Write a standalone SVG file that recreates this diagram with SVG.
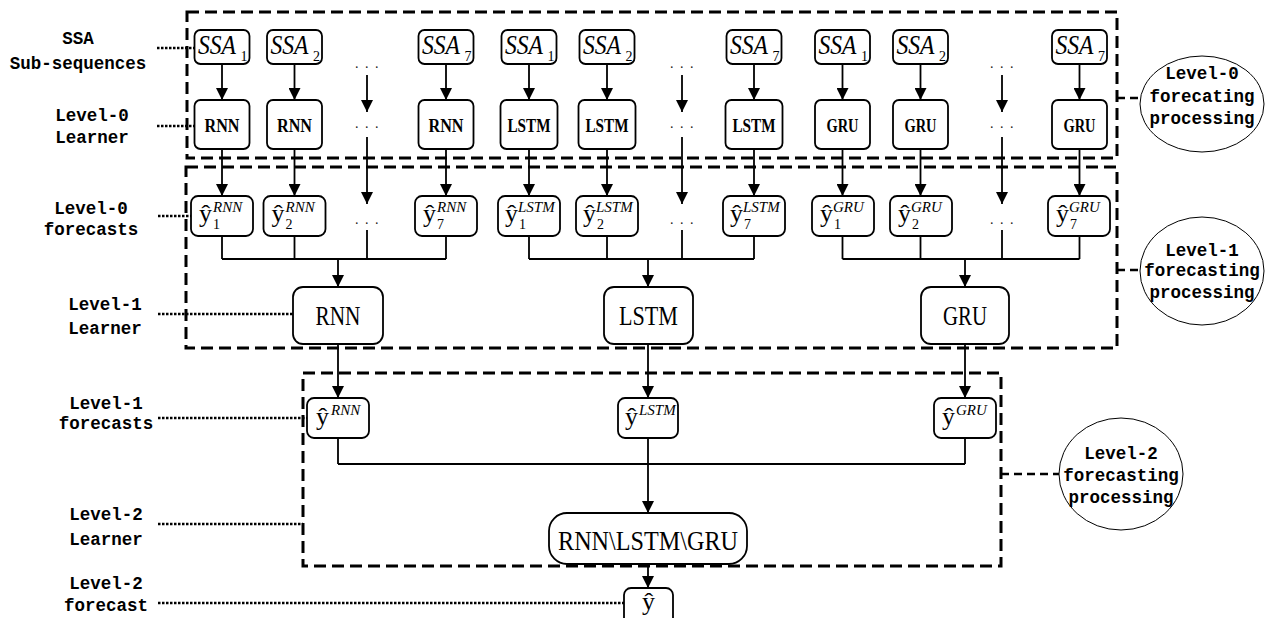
<svg xmlns="http://www.w3.org/2000/svg" width="1267" height="618" viewBox="0 0 1267 618">
<defs>
<style>
.box{fill:#fff;stroke:#000;stroke-width:1.8}
.grp{fill:none;stroke:#000;stroke-width:3;stroke-dasharray:12 6}
.dot{fill:none;stroke:#000;stroke-width:2.5;stroke-dasharray:2.5 1.5}
.dash{fill:none;stroke:#000;stroke-width:2.5;stroke-dasharray:8 5}
.ln{fill:none;stroke:#000;stroke-width:1.8}
.ell{fill:#fff;stroke:#000;stroke-width:1}
.lab{font-family:"Liberation Mono",monospace;font-weight:bold;font-size:17.5px;text-anchor:middle;fill:#000}
.ssa{font-family:"Liberation Serif",serif;font-style:italic;font-size:27px;fill:#000}
.sub{font-family:"Liberation Serif",serif;font-size:14px;fill:#000}
.l0{font-family:"Liberation Serif",serif;font-weight:bold;font-size:18px;text-anchor:middle;fill:#000}
.l1{font-family:"Liberation Serif",serif;font-size:28px;text-anchor:middle;fill:#000}
.yh{font-family:"Liberation Serif",serif;font-size:26px;fill:#000}
.sup{font-family:"Liberation Serif",serif;font-style:italic;font-size:15px;fill:#000}
.dots{font-family:"Liberation Serif",serif;font-size:14px;letter-spacing:6.5px;text-anchor:middle;fill:#222}
</style>
<marker id="ah" markerWidth="12" markerHeight="12" refX="12" refY="6" orient="auto" markerUnits="userSpaceOnUse"><path d="M0,0 L12,6 L0,12 Z" fill="#000"/></marker>
</defs>
<rect width="1267" height="618" fill="#fff"/>

<!-- group frames -->
<g id="frames">
<rect class="grp" x="187" y="12" width="930" height="146"/>
<rect class="grp" x="186" y="167" width="931" height="181"/>
<rect class="grp" x="303" y="373" width="698" height="193"/>
</g>

<!-- connectors -->
<g id="connectors">
<g class="ln" marker-end="url(#ah)">
<line x1="222" y1="64" x2="222" y2="100"/>
<line x1="294.5" y1="64" x2="294.5" y2="100"/>
<line x1="367" y1="75" x2="367" y2="112"/>
<line x1="446" y1="64" x2="446" y2="100"/>
<line x1="529" y1="64" x2="529" y2="100"/>
<line x1="607" y1="64" x2="607" y2="100"/>
<line x1="682" y1="75" x2="682" y2="112"/>
<line x1="754" y1="64" x2="754" y2="100"/>
<line x1="842.5" y1="64" x2="842.5" y2="100"/>
<line x1="920.5" y1="64" x2="920.5" y2="100"/>
<line x1="1002" y1="75" x2="1002" y2="112"/>
<line x1="1079.5" y1="64" x2="1079.5" y2="100"/>
<line x1="222" y1="149" x2="222" y2="196"/>
<line x1="294.5" y1="149" x2="294.5" y2="196"/>
<line x1="367" y1="137" x2="367" y2="204"/>
<line x1="446" y1="149" x2="446" y2="196"/>
<line x1="529" y1="149" x2="529" y2="196"/>
<line x1="607" y1="149" x2="607" y2="196"/>
<line x1="682" y1="137" x2="682" y2="204"/>
<line x1="754" y1="149" x2="754" y2="196"/>
<line x1="842.5" y1="149" x2="842.5" y2="196"/>
<line x1="920.5" y1="149" x2="920.5" y2="196"/>
<line x1="1002" y1="137" x2="1002" y2="204"/>
<line x1="1079.5" y1="149" x2="1079.5" y2="196"/>
<line x1="338" y1="259" x2="338" y2="287"/>
<line x1="648" y1="259" x2="648" y2="287"/>
<line x1="965" y1="259" x2="965" y2="287"/>
<line x1="338" y1="344" x2="338" y2="398"/>
<line x1="648" y1="344" x2="648" y2="398"/>
<line x1="965" y1="344" x2="965" y2="398"/>
<line x1="648" y1="438" x2="648" y2="513"/>
<line x1="648" y1="564" x2="648" y2="588"/>
</g>
<path class="ln" d="M222,236V259M294.5,236V259M367,230V259M446,236V259M222,259H446"/>
<path class="ln" d="M529,236V259M607,236V259M682,230V259M754,236V259M529,259H754"/>
<path class="ln" d="M842.5,236V259M920.5,236V259M1002,230V259M1079.5,236V259M842.5,259H1079.5"/>
<path class="ln" d="M338,438V464M965,438V464M338,464H965"/>
<g class="dot">
<line x1="157" y1="48" x2="194" y2="48"/>
<line x1="157" y1="126" x2="194" y2="126"/>
<line x1="158" y1="216" x2="191" y2="216"/>
<line x1="158" y1="314" x2="293" y2="314"/>
<line x1="158" y1="418" x2="307" y2="418"/>
<line x1="158" y1="524" x2="303" y2="524"/>
<line x1="158" y1="603" x2="624" y2="603"/>
</g>
<g class="dash">
<line x1="1117" y1="98" x2="1140" y2="98"/>
<line x1="1117" y1="270" x2="1140" y2="270"/>
<line x1="1001" y1="474" x2="1059" y2="474"/>
</g>
</g>

<!-- left labels -->
<g id="labels">
<text class="lab" x="78" y="44">SSA</text>
<text class="lab" x="78" y="69">Sub-sequences</text>
<text class="lab" x="92" y="121">Level-0</text>
<text class="lab" x="92" y="143">Learner</text>
<text class="lab" x="91" y="214">Level-0</text>
<text class="lab" x="91" y="235">forecasts</text>
<text class="lab" x="105" y="310">Level-1</text>
<text class="lab" x="105" y="334">Learner</text>
<text class="lab" x="106" y="409">Level-1</text>
<text class="lab" x="106" y="429">forecasts</text>
<text class="lab" x="106" y="520">Level-2</text>
<text class="lab" x="106" y="545">Learner</text>
<text class="lab" x="106" y="589">Level-2</text>
<text class="lab" x="106" y="611">forecast</text>
</g>

<!-- SSA nodes -->
<g id="ssa-rnn-1"><rect class="box" x="194.5" y="30" width="55" height="34" rx="6"/><text class="ssa" x="198" y="54" textLength="38" lengthAdjust="spacingAndGlyphs">SSA</text><text class="sub" x="240.5" y="61">1</text></g>
<g id="ssa-rnn-2"><rect class="box" x="267" y="30" width="55" height="34" rx="6"/><text class="ssa" x="270.5" y="54" textLength="38" lengthAdjust="spacingAndGlyphs">SSA</text><text class="sub" x="313" y="61">2</text></g>
<g id="ssa-rnn-7"><rect class="box" x="418.5" y="30" width="55" height="34" rx="6"/><text class="ssa" x="422" y="54" textLength="38" lengthAdjust="spacingAndGlyphs">SSA</text><text class="sub" x="464.5" y="61">7</text></g>
<g id="ssa-lstm-1"><rect class="box" x="501.5" y="30" width="55" height="34" rx="6"/><text class="ssa" x="505" y="54" textLength="38" lengthAdjust="spacingAndGlyphs">SSA</text><text class="sub" x="547.5" y="61">1</text></g>
<g id="ssa-lstm-2"><rect class="box" x="579.5" y="30" width="55" height="34" rx="6"/><text class="ssa" x="583" y="54" textLength="38" lengthAdjust="spacingAndGlyphs">SSA</text><text class="sub" x="625.5" y="61">2</text></g>
<g id="ssa-lstm-7"><rect class="box" x="726.5" y="30" width="55" height="34" rx="6"/><text class="ssa" x="730" y="54" textLength="38" lengthAdjust="spacingAndGlyphs">SSA</text><text class="sub" x="772.5" y="61">7</text></g>
<g id="ssa-gru-1"><rect class="box" x="815" y="30" width="55" height="34" rx="6"/><text class="ssa" x="818.5" y="54" textLength="38" lengthAdjust="spacingAndGlyphs">SSA</text><text class="sub" x="861" y="61">1</text></g>
<g id="ssa-gru-2"><rect class="box" x="893" y="30" width="55" height="34" rx="6"/><text class="ssa" x="896.5" y="54" textLength="38" lengthAdjust="spacingAndGlyphs">SSA</text><text class="sub" x="939" y="61">2</text></g>
<g id="ssa-gru-7"><rect class="box" x="1052" y="30" width="55" height="34" rx="6"/><text class="ssa" x="1055.5" y="54" textLength="38" lengthAdjust="spacingAndGlyphs">SSA</text><text class="sub" x="1098" y="61">7</text></g>

<!-- Level-0 learners -->
<g id="l0-rnn-1"><rect class="box" x="194.5" y="100" width="55" height="49" rx="6"/><text class="l0" x="222" y="132" textLength="35" lengthAdjust="spacingAndGlyphs">RNN</text></g>
<g id="l0-rnn-2"><rect class="box" x="267" y="100" width="55" height="49" rx="6"/><text class="l0" x="294.5" y="132" textLength="35" lengthAdjust="spacingAndGlyphs">RNN</text></g>
<g id="l0-rnn-7"><rect class="box" x="418.5" y="100" width="55" height="49" rx="6"/><text class="l0" x="446" y="132" textLength="35" lengthAdjust="spacingAndGlyphs">RNN</text></g>
<g id="l0-lstm-1"><rect class="box" x="500.5" y="100" width="57" height="49" rx="6"/><text class="l0" x="529" y="132" textLength="43" lengthAdjust="spacingAndGlyphs">LSTM</text></g>
<g id="l0-lstm-2"><rect class="box" x="578.5" y="100" width="57" height="49" rx="6"/><text class="l0" x="607" y="132" textLength="43" lengthAdjust="spacingAndGlyphs">LSTM</text></g>
<g id="l0-lstm-7"><rect class="box" x="725.5" y="100" width="57" height="49" rx="6"/><text class="l0" x="754" y="132" textLength="43" lengthAdjust="spacingAndGlyphs">LSTM</text></g>
<g id="l0-gru-1"><rect class="box" x="815" y="100" width="55" height="49" rx="6"/><text class="l0" x="842.5" y="132" textLength="32" lengthAdjust="spacingAndGlyphs">GRU</text></g>
<g id="l0-gru-2"><rect class="box" x="893" y="100" width="55" height="49" rx="6"/><text class="l0" x="920.5" y="132" textLength="32" lengthAdjust="spacingAndGlyphs">GRU</text></g>
<g id="l0-gru-7"><rect class="box" x="1052" y="100" width="55" height="49" rx="6"/><text class="l0" x="1079.5" y="132" textLength="32" lengthAdjust="spacingAndGlyphs">GRU</text></g>

<!-- ellipsis markers -->
<g id="ellipses">
<text class="dots" x="370" y="68">...</text><text class="dots" x="370" y="128">...</text><text class="dots" x="370" y="224">...</text>
<text class="dots" x="685" y="68">...</text><text class="dots" x="685" y="128">...</text><text class="dots" x="685" y="224">...</text>
<text class="dots" x="1005" y="68">...</text><text class="dots" x="1005" y="128">...</text><text class="dots" x="1005" y="224">...</text>
</g>

<!-- Level-0 forecasts -->
<g id="f0-rnn-1"><rect class="box" x="191" y="196" width="62" height="40" rx="7"/><text class="yh" x="199" y="222">ŷ</text><text class="sup" x="213" y="212">RNN</text><text class="sub" x="213" y="229">1</text></g>
<g id="f0-rnn-2"><rect class="box" x="263.5" y="196" width="62" height="40" rx="7"/><text class="yh" x="271.5" y="222">ŷ</text><text class="sup" x="285.5" y="212">RNN</text><text class="sub" x="285.5" y="229">2</text></g>
<g id="f0-rnn-7"><rect class="box" x="415" y="196" width="62" height="40" rx="7"/><text class="yh" x="423" y="222">ŷ</text><text class="sup" x="437" y="212">RNN</text><text class="sub" x="437" y="229">7</text></g>
<g id="f0-lstm-1"><rect class="box" x="498" y="196" width="62" height="40" rx="7"/><text class="yh" x="505" y="222">ŷ</text><text class="sup" x="518" y="212">LSTM</text><text class="sub" x="519" y="229">1</text></g>
<g id="f0-lstm-2"><rect class="box" x="576" y="196" width="62" height="40" rx="7"/><text class="yh" x="583" y="222">ŷ</text><text class="sup" x="596" y="212">LSTM</text><text class="sub" x="597" y="229">2</text></g>
<g id="f0-lstm-7"><rect class="box" x="723" y="196" width="62" height="40" rx="7"/><text class="yh" x="730" y="222">ŷ</text><text class="sup" x="743" y="212">LSTM</text><text class="sub" x="744" y="229">7</text></g>
<g id="f0-gru-1"><rect class="box" x="812" y="196" width="62" height="40" rx="7"/><text class="yh" x="820" y="222">ŷ</text><text class="sup" x="833" y="212">GRU</text><text class="sub" x="834" y="229">1</text></g>
<g id="f0-gru-2"><rect class="box" x="890" y="196" width="62" height="40" rx="7"/><text class="yh" x="898" y="222">ŷ</text><text class="sup" x="911" y="212">GRU</text><text class="sub" x="912" y="229">2</text></g>
<g id="f0-gru-7"><rect class="box" x="1048" y="196" width="62" height="40" rx="7"/><text class="yh" x="1056" y="222">ŷ</text><text class="sup" x="1069" y="212">GRU</text><text class="sub" x="1070" y="229">7</text></g>

<!-- Level-1 learners -->
<g id="l1-rnn"><rect class="box" x="293" y="287" width="90" height="57" rx="10"/><text class="l1" x="338" y="325" textLength="45" lengthAdjust="spacingAndGlyphs">RNN</text></g>
<g id="l1-lstm"><rect class="box" x="604" y="287" width="89" height="57" rx="10"/><text class="l1" x="648.5" y="325" textLength="59" lengthAdjust="spacingAndGlyphs">LSTM</text></g>
<g id="l1-gru"><rect class="box" x="921" y="287" width="88" height="57" rx="10"/><text class="l1" x="965" y="325" textLength="44" lengthAdjust="spacingAndGlyphs">GRU</text></g>

<!-- Level-1 forecasts -->
<g id="f1-rnn"><rect class="box" x="307" y="398" width="62" height="40" rx="7"/><text class="yh" x="316" y="425">ŷ</text><text class="sup" x="331" y="415">RNN</text></g>
<g id="f1-lstm"><rect class="box" x="618" y="398" width="60" height="40" rx="7"/><text class="yh" x="625" y="425">ŷ</text><text class="sup" x="639" y="415">LSTM</text></g>
<g id="f1-gru"><rect class="box" x="934" y="398" width="62" height="40" rx="7"/><text class="yh" x="942" y="425">ŷ</text><text class="sup" x="956" y="415">GRU</text></g>

<!-- Level-2 learner and forecast -->
<g id="l2-learner"><rect class="box" x="549" y="513" width="198" height="51" rx="18"/><text class="l1" x="648" y="550" font-size="31" textLength="180" lengthAdjust="spacingAndGlyphs">RNN\LSTM\GRU</text></g>
<g id="f2"><rect class="box" x="624" y="588" width="49" height="40" rx="7"/><text class="yh" x="642" y="610">ŷ</text></g>

<!-- process ellipses -->
<g id="proc-0"><ellipse class="ell" cx="1202" cy="104" rx="62" ry="48"/>
<text class="lab" x="1202" y="79">Level-0</text><text class="lab" x="1202" y="102">forecating</text><text class="lab" x="1202" y="124">processing</text></g>
<g id="proc-1"><ellipse class="ell" cx="1202" cy="271" rx="62" ry="54"/>
<text class="lab" x="1202" y="256" font-size="16">Level-1</text><text class="lab" x="1202" y="276" font-size="16">forecasting</text><text class="lab" x="1202" y="298" font-size="16">processing</text></g>
<g id="proc-2"><ellipse class="ell" cx="1121" cy="474" rx="62" ry="56"/>
<text class="lab" x="1121" y="459" font-size="16">Level-2</text><text class="lab" x="1121" y="481" font-size="16">forecasting</text><text class="lab" x="1121" y="503" font-size="16">processing</text></g>
</svg>
